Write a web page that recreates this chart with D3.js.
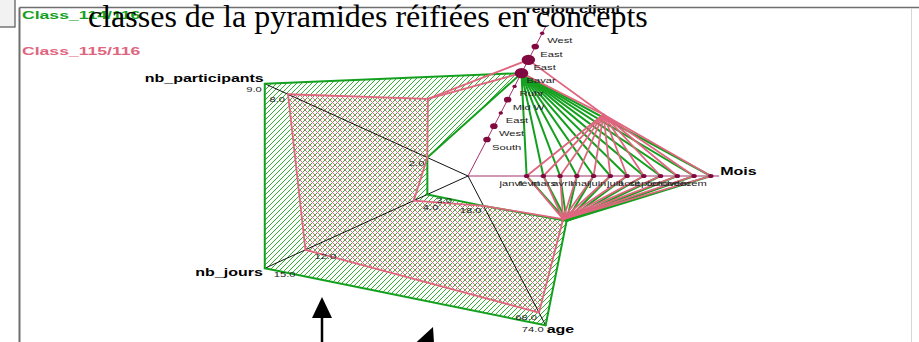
<!DOCTYPE html>
<html>
<head>
<meta charset="utf-8">
<script src="https://cdn.jsdelivr.net/npm/d3@7"></script>
<style>
  html, body { margin: 0; padding: 0; background: #fff; }
  svg { display: block; }
</style>
</head>
<body>
<svg id="chart" width="919" height="342"></svg>
<script>
// ---- data -------------------------------------------------------------
const monthLabels  = ["janvi", "févri", "mars", "avril", "mai", "juin", "juill", "août", "septe", "octob", "novem", "décem"];
const regionLabels = ["South", "West", "East", "Mid W", "Ruhr", "Bavar", "East", "East", "West"];
const regionWeight = [2, 2, 1, 2, 1, 4, 4, 2, 1];

const participantsDomain = [2, 9];
const joursDomain        = [3, 15];
const ageDomain          = [18, 74];

const classNames        = ["Class_114/116", "Class_115/116"];
const participantsRange = [[2, 9], [2, 8]];
const joursRange        = [[3, 15], [4, 12]];
const ageRange          = [[18, 74], [18, 68]];
const monthSets         = [[0, 1, 2, 3, 4, 5, 6, 7, 8, 9, 10, 11], [0, 1, 2, 3, 4, 5, 6, 7, 8, 9, 10, 11]];
const regionSets        = [[5], [5, 6]];

// ---- layout -----------------------------------------------------------
const cx = 468, cy = 176, R = 157, SX = 1.6;   // star centre, radius, horizontal stretch
const classColor = ["#14a01e", "#e0657f"];
const hatchColor = ["#2fb02f", "#e66a86"];
const catColor = "#800a40";
const FONT = "'Liberation Sans', Arial, Helvetica, sans-serif";

const svg = d3.select("#chart");
const rad = d => d * Math.PI / 180;
const proj = (angle, r) => [cx + SX * r * Math.cos(rad(angle)), cy - r * Math.sin(rad(angle))];

const inner = 0.2 * R;
const axes = [
  { name: "Mois", kind: "cat", labels: monthLabels, sets: monthSets,
    scale: d3.scalePoint().domain(d3.range(monthLabels.length)).range([inner, R]).padding(0.5),
    nameAt: { anchor: "start", dx: 1, dy: -1 }, catAt: { anchor: "end", dx: -4, dy: 10 } },
  { name: "region client", kind: "cat", labels: regionLabels, sets: regionSets,
    scale: d3.scalePoint().domain(d3.range(regionLabels.length)).range([inner, R]).padding(0.5),
    nameAt: { anchor: "start", dx: -20, dy: -14 }, catAt: { anchor: "start", dx: 5, dy: 10 } },
  { name: "nb_participants", kind: "num", ranges: participantsRange,
    scale: d3.scaleLinear().domain(participantsDomain).range([inner, R]),
    nameAt: { anchor: "end", dx: -1, dy: -2 }, tickAt: { anchor: "end", dx: -3, dy: 8 } },
  { name: "nb_jours", kind: "num", ranges: joursRange,
    scale: d3.scaleLinear().domain(joursDomain).range([inner, R]),
    nameAt: { anchor: "end", dx: -2, dy: 8 }, tickAt: { anchor: "start", dx: 9, dy: 9 } },
  { name: "age", kind: "num", ranges: ageRange,
    scale: d3.scaleLinear().domain(ageDomain).range([inner, R]),
    nameAt: { anchor: "start", dx: 1, dy: 8 }, tickAt: { anchor: "end", dx: -2, dy: 7 } }
];
axes.forEach((a, i) => { a.angle = i * 360 / axes.length; });

// stretched text, the whole drawing is wider than tall
function stretchedText(g, x, y, str, opts) {
  return g.append("text")
    .attr("transform", `translate(${x},${y}) scale(${SX},1)`)
    .attr("text-anchor", opts.anchor || "start")
    .attr("font-family", FONT)
    .attr("font-size", opts.size)
    .attr("font-weight", opts.weight || "normal")
    .attr("fill", opts.fill || "#000")
    .text(str);
}

// ---- hatch patterns ---------------------------------------------------
const defs = svg.append("defs");
defs.append("pattern").attr("id", "hatch0").attr("patternUnits", "userSpaceOnUse")
  .attr("width", 5).attr("height", 5)
  .append("path").attr("d", "M-1,1 l2,-2 M0,5 l5,-5 M4,6 l2,-2")
  .attr("stroke", hatchColor[0]).attr("stroke-width", 1)
  .attr("shape-rendering", "crispEdges");
defs.append("pattern").attr("id", "hatch1").attr("patternUnits", "userSpaceOnUse")
  .attr("width", 5).attr("height", 5)
  .append("path").attr("d", "M-1,4 l2,2 M0,0 l5,5 M4,-1 l2,2")
  .attr("stroke", hatchColor[1]).attr("stroke-width", 1)
  .attr("shape-rendering", "crispEdges");

// ---- geometry for each class ------------------------------------------
function classPoints(c) {
  return axes.map(a => {
    const vals = a.kind === "num" ? a.ranges[c] : a.sets[c];
    return vals.map(v => {
      const r = a.scale(v);
      const [x, y] = proj(a.angle, r);
      return { x, y, r, v };
    });
  });
}

function classShapes(c) {
  const pts = classPoints(c);
  const lines = [], areas = [];
  const half = 180 / axes.length;
  axes.forEach((A, i) => {
    const j = (i + 1) % axes.length, B = axes[j];
    const pa = pts[i], pb = pts[j];
    const multiA = A.kind === "cat" && pa.length > 1;
    const multiB = B.kind === "cat" && pb.length > 1;
    const singleA = A.kind === "cat" && pa.length === 1;
    const singleB = B.kind === "cat" && pb.length === 1;
    if (!multiA && !multiB) {
      if (pa.length === 2 && pb.length === 2) {
        lines.push([pa[0], pb[0]], [pa[1], pb[1]]);
        areas.push([pa[0], pa[1], pb[1], pb[0]]);
      } else if (pa.length === 1 && pb.length === 2) {
        lines.push([pa[0], pb[0]], [pa[0], pb[1]]);
        areas.push([pa[0], pb[1], pb[0]]);
      } else if (pa.length === 2 && pb.length === 1) {
        lines.push([pa[0], pb[0]], [pa[1], pb[0]]);
        areas.push([pa[0], pa[1], pb[0]]);
      } else {
        lines.push([pa[0], pb[0]]);
      }
    } else if (singleA && multiB) {
      pb.forEach(p => lines.push([pa[0], p]));
    } else if (multiA && singleB) {
      pa.forEach(p => lines.push([p, pb[0]]));
    } else {
      // junction point on the bisector between the two axes
      const mA = d3.mean(pa, p => p.r), mB = d3.mean(pb, p => p.r);
      const both = A.kind === "cat" && B.kind === "cat";
      const hr = (mA + mB) / 2 * (both ? 1 : Math.cos(rad(half)));
      const [hx, hy] = proj(A.angle + half, hr);
      const hub = { x: hx, y: hy };
      pa.forEach(p => lines.push([p, hub]));
      pb.forEach(p => lines.push([p, hub]));
      if (A.kind === "num") areas.push([pa[0], pa[1], hub]);
      if (B.kind === "num") areas.push([pb[0], pb[1], hub]);
    }
  });
  return { lines, areas };
}

const shapes = classNames.map((_, c) => classShapes(c));
const polyPath = pts => "M" + pts.map(p => `${p.x},${p.y}`).join("L") + "Z";

// ---- hatched bands ----------------------------------------------------
const gArea = svg.append("g");
shapes.forEach((s, c) => {
  gArea.selectAll(null).data(s.areas).enter().append("path")
    .attr("d", polyPath)
    .attr("fill", `url(#hatch${c})`)
    .attr("stroke", "none");
});

// ---- axes -------------------------------------------------------------
const gAxis = svg.append("g");
axes.forEach(a => {
  const [x, y] = proj(a.angle, R);
  gAxis.append("line")
    .attr("x1", cx).attr("y1", cy).attr("x2", x).attr("y2", y)
    .attr("stroke", a.kind === "cat" ? "#a3306a" : "#111")
    .attr("stroke-width", 1);
});

// ---- class outlines ---------------------------------------------------
shapes.forEach((s, c) => {
  svg.append("g").selectAll("line").data(s.lines).enter().append("line")
    .attr("x1", d => d[0].x).attr("y1", d => d[0].y)
    .attr("x2", d => d[1].x).attr("y2", d => d[1].y)
    .attr("stroke", classColor[c])
    .attr("stroke-width", c === 0 ? 2 : 1.8)
    .attr("stroke-linecap", "round");
});

// ---- category dots and labels -----------------------------------------
const dotSize = d3.scaleLinear().domain([1, 4]).range([1.7, 5.2]);
const gDots = svg.append("g");
const gText = svg.append("g");
axes.filter(a => a.kind === "cat").forEach(a => {
  const dom = a.scale.domain();
  dom.forEach(k => {
    const [x, y] = proj(a.angle, a.scale(k));
    const r = a.name === "Mois" ? 2.1 : dotSize(regionWeight[k]);
    gDots.append("ellipse")
      .attr("cx", x).attr("cy", y).attr("rx", r * 1.3).attr("ry", r)
      .attr("fill", catColor);
    stretchedText(gText, x + a.catAt.dx, y + a.catAt.dy, a.labels[k],
      { anchor: a.catAt.anchor, size: 7, fill: "#222" });
  });
});

// ---- numeric value labels ---------------------------------------------
axes.filter(a => a.kind === "num").forEach(a => {
  const vals = Array.from(new Set(a.ranges.flat()));
  vals.forEach(v => {
    const [x, y] = proj(a.angle, a.scale(v));
    stretchedText(gText, x + a.tickAt.dx, y + a.tickAt.dy, d3.format(".1f")(v),
      { anchor: a.tickAt.anchor, size: 7, fill: "#222" });
  });
});

// ---- axis names -------------------------------------------------------
axes.forEach(a => {
  const [x, y] = proj(a.angle, R);
  stretchedText(gText, x + a.nameAt.dx, y + a.nameAt.dy, a.name,
    { anchor: a.nameAt.anchor, size: 10, weight: "bold" });
});

// ---- frame, legend, title ---------------------------------------------
svg.append("rect").attr("x", -2).attr("y", -2).attr("width", 17).attr("height", 29)
  .attr("fill", "#f2f2f2").attr("stroke", "#555").attr("stroke-width", 1.2);
svg.append("line").attr("x1", 19.5).attr("y1", 7.5).attr("x2", 19.5).attr("y2", 342)
  .attr("stroke", "#6e6e6e").attr("stroke-width", 2);
svg.append("line").attr("x1", 19.5).attr("y1", 7.5).attr("x2", 919).attr("y2", 7.5)
  .attr("stroke", "#6e6e6e").attr("stroke-width", 1.5);
svg.append("line").attr("x1", 911.5).attr("y1", 8).attr("x2", 911.5).attr("y2", 342)
  .attr("stroke", "#d6d6d6").attr("stroke-width", 1);

classNames.forEach((n, c) => {
  stretchedText(svg, 22, 19 + c * 36, n, { size: 11, weight: "bold", fill: classColor[c] });
});

svg.append("text")
  .attr("x", 88).attr("y", 27)
  .attr("font-family", "'Liberation Serif', 'Times New Roman', serif")
  .attr("font-size", 32)
  .attr("fill", "#000")
  .text("classes de la pyramides réifiées en concepts");

// ---- pointer arrows ---------------------------------------------------
function arrow(tipX, tipY, angleDeg, len, headLen, headHalf) {
  const ux = Math.sin(rad(angleDeg)), uy = -Math.cos(rad(angleDeg));
  const bx = tipX - ux * headLen, by = tipY - uy * headLen;
  svg.append("line")
    .attr("x1", bx).attr("y1", by)
    .attr("x2", tipX - ux * len).attr("y2", tipY - uy * len)
    .attr("stroke", "#000").attr("stroke-width", 2.5);
  svg.append("path")
    .attr("d", `M${tipX},${tipY}L${bx - uy * headHalf},${by + ux * headHalf}L${bx + uy * headHalf},${by - ux * headHalf}Z`)
    .attr("fill", "#000");
}
arrow(322, 297, 0, 60, 21, 10);
arrow(433, 327, 22, 80, 21, 10);
</script>
</body>
</html>
